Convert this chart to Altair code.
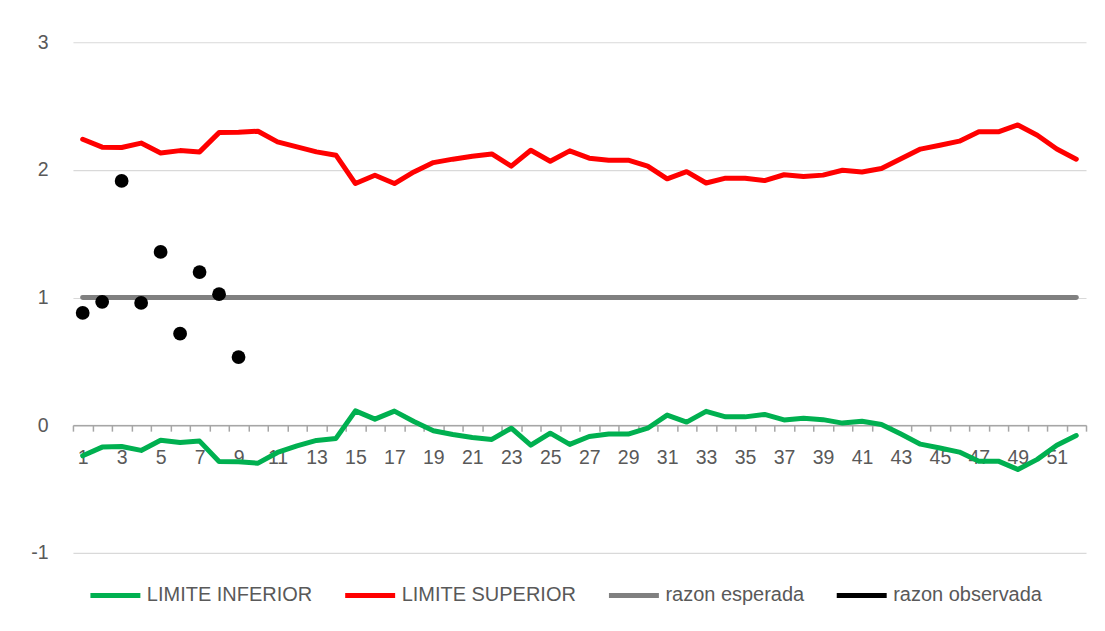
import math
import altair as alt
import pandas as pd

# ---- data ----
x_vals = list(range(1, 53))
limite_inferior = [
    -0.24, -0.172, -0.167, -0.198, -0.118, -0.136, -0.125, -0.285, -0.287, -0.298,
    -0.214, -0.162, -0.12, -0.104, 0.112, 0.047, 0.11, 0.029, -0.044, -0.073,
    -0.097, -0.112, -0.024, -0.157, -0.063, -0.151, -0.089, -0.07, -0.07, -0.024,
    0.079, 0.024, 0.108, 0.065, 0.065, 0.084, 0.041, 0.054, 0.043, 0.016,
    0.03, 0.005, -0.07, -0.149, -0.179, -0.211, -0.282, -0.282, -0.347, -0.268,
    -0.157, -0.081,
]
limite_superior = [
    2.24, 2.178, 2.175, 2.21, 2.133, 2.151, 2.141, 2.292, 2.295, 2.303,
    2.219, 2.18, 2.141, 2.115, 1.893, 1.958, 1.893, 1.984, 2.057, 2.084,
    2.107, 2.125, 2.029, 2.154, 2.068, 2.149, 2.092, 2.076, 2.076, 2.03,
    1.93, 1.986, 1.897, 1.935, 1.935, 1.916, 1.962, 1.948, 1.959, 1.997,
    1.984, 2.011, 2.087, 2.163, 2.193, 2.225, 2.298, 2.298, 2.352, 2.271,
    2.163, 2.084,
]
razon_esperada = [1.0] * 52
obs_x = list(range(1, 10))
razon_observada = [0.879, 0.966, 1.913, 0.958, 1.357, 0.717, 1.199, 1.026, 0.533]

names = ["LIMITE INFERIOR", "LIMITE SUPERIOR", "razon esperada", "razon observada"]
colors = ["#00b050", "#ff0000", "#808080", "#000000"]
y_ticks = [-1, 0, 1, 2, 3]

# ---- tables ----
rows = []
for name, vals in zip(names[:3], [limite_inferior, limite_superior, razon_esperada]):
    for xi, v in zip(x_vals, vals):
        rows.append({"x": xi, "y": v, "serie": name})
lines_df = pd.DataFrame(rows)
obs_df = pd.DataFrame({"x": obs_x, "y": razon_observada, "serie": names[3]})

FONT = "Liberation Sans"
TXT = "#595959"
H = 511
W = 1014

X = alt.X(
    "x:O",
    scale=alt.Scale(type="band", paddingInner=0, paddingOuter=0, domain=x_vals),
    bandPosition=0.5,
    axis=alt.Axis(
        title=None,
        offset=-H / 4,
        tickBand="extent",
        labelExpr="datum.value % 2 == 1 ? datum.label : ''",
        labelAngle=0,
        domainColor="#a6a6a6",
        domainWidth=1.5,
        tickColor="#a6a6a6",
        tickWidth=1.5,
        tickSize=6,
        labelColor=TXT,
        labelFont=FONT,
        labelFontSize=19.5,
        labelPadding=17,
        grid=False,
    ),
)
Y = alt.Y(
    "y:Q",
    scale=alt.Scale(domain=[-1, 3], nice=False, zero=False),
    axis=alt.Axis(
        title=None,
        values=y_ticks,
        labelExpr="'' + datum.value",
        domain=False,
        ticks=False,
        grid=True,
        gridColor="#d9d9d9",
        gridWidth=1.2,
        labelColor=TXT,
        labelFont=FONT,
        labelFontSize=19.5,
        labelPadding=25,
    ),
)

legend_base = dict(
    title=None,
    orient="bottom",
    offset=0,
    padding=15,
    direction="horizontal",
    symbolType="stroke",
    symbolSize=2500,
    symbolStrokeWidth=5,
    labelFont=FONT,
    labelFontSize=20,
    labelColor=TXT,
    labelLimit=400,
    labelOffset=4,
    columnPadding=22,
)

# small round glyph (unit coordinates) for the "razon observada" legend entry
_pts = [(0.12 * math.cos(2 * math.pi * k / 24), 0.12 * math.sin(2 * math.pi * k / 24)) for k in range(24)]
dot_path = "M" + "L".join(f"{px:.4f},{py:.4f}" for px, py in _pts) + "Z"
is_obs = "datum.value === 'razon observada'"

candidates = [
    {
        "symbols": {
            "update": {
                "shape": {"condition": {"test": is_obs, "value": dot_path}, "value": "stroke"},
                "fill": {"condition": {"test": is_obs, "value": "#000000"}, "value": "transparent"},
            }
        }
    },
    {
        "symbols": {
            "update": {
                "shape": {"value": {"expr": f"{is_obs} ? '{dot_path}' : 'stroke'"}},
                "fill": {"value": {"expr": f"{is_obs} ? '#000000' : 'transparent'"}},
            }
        }
    },
    None,
]


def build(enc):
    kw = dict(legend_base)
    if enc is not None:
        kw["encode"] = enc
    lines = alt.Chart(lines_df).mark_line(
        strokeWidth=5, strokeCap="round", strokeJoin="round"
    ).encode(
        x=X,
        y=Y,
        color=alt.Color("serie:N", scale=alt.Scale(domain=names, range=colors), legend=alt.Legend(**kw)),
    )
    dots = alt.Chart(obs_df).mark_circle(size=190, opacity=1, color="black").encode(x=X, y=Y)
    ch = (
        alt.layer(lines, dots)
        .properties(width=W, height=H, padding={"left": 22, "top": 24, "right": 10, "bottom": 5})
        .configure_view(stroke=None)
    )
    ch.to_dict()
    return ch


chart = None
for enc in candidates:
    try:
        chart = build(enc)
        break
    except Exception:
        continue

chart.save("out.html", embed_options={"renderer": "svg", "actions": False})
